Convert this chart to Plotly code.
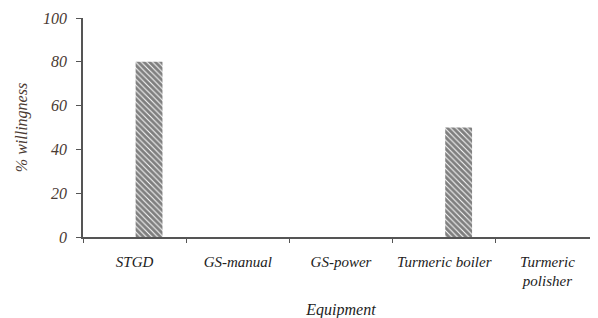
import plotly.graph_objects as go

categories = ["STGD", "GS-manual", "GS-power", "Turmeric boiler", "Turmeric<br>polisher"]
willingness = [80, 0, 0, 50, 0]
y_ticks = [0, 20, 40, 60, 80, 100]

font_family = "Liberation Serif, Times New Roman, serif"

fig = go.Figure()
fig.add_trace(go.Bar(
    x=categories,
    y=willingness,
    width=0.26,
    offset=0.01,
    marker=dict(
        color="white",
        line=dict(width=0),
        pattern=dict(shape="\\", fgcolor="black", bgcolor="white", size=4, solidity=0.75),
    ),
))

fig.update_layout(
    width=598, height=318,
    margin=dict(l=75, r=7, t=10, b=89, autoexpand=False),
    paper_bgcolor="white", plot_bgcolor="white",
    showlegend=False,
    font=dict(family=font_family, size=15, color="#222222"),
    xaxis=dict(
        showline=True, linecolor="#555555", linewidth=1.5,
        ticks="outside", tickson="boundaries", ticklen=4, tickcolor="#555555",
        tickangle=0,
        tickfont=dict(family=font_family, size=15, style="italic", color="#222222"),
        ticklabelstandoff=10,
        title=dict(text="Equipment", font=dict(family=font_family, size=16, style="italic", color="#222222"), standoff=16),
        showgrid=False,
    ),
    yaxis=dict(
        range=[0, 100], tickvals=y_ticks,
        showline=True, linecolor="#555555", linewidth=1.5,
        ticks="outside", ticklen=5, tickcolor="#555555",
        ticklabelstandoff=6,
        tickfont=dict(family=font_family, size=16, style="italic", color="#4a3a33"),
        title=dict(text="% willingness", font=dict(family=font_family, size=16, style="italic", color="#4a3a33"), standoff=11),
        showgrid=False, zeroline=False,
    ),
)

fig.write_html("out.html")
